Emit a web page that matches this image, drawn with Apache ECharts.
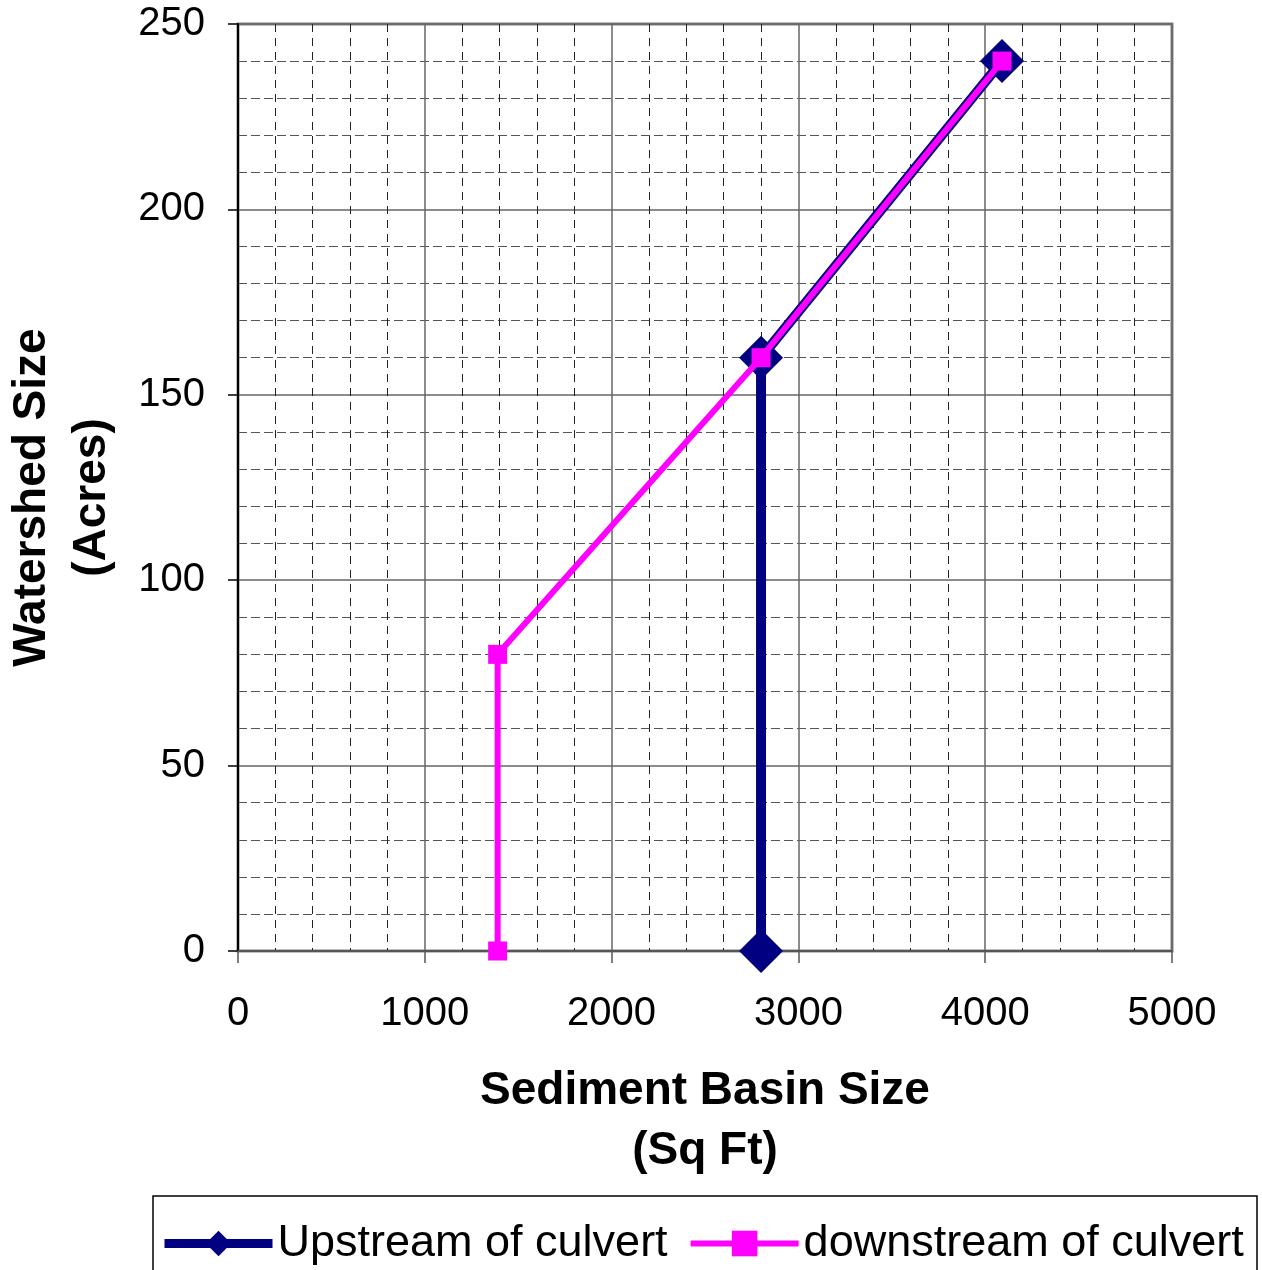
<!DOCTYPE html>
<html>
<head>
<meta charset="utf-8">
<script src="https://cdn.jsdelivr.net/npm/echarts@6/dist/echarts.min.js"></script>
<style>
  html, body { margin: 0; padding: 0; background: #fff; }
  #chart_a { width: 1262px; height: 1270px; }
</style>
</head>
<body>
<div id="chart_a"></div>
<script>
// 数据 (Sq Ft, Acres)
var upstreamX = [2800, 2800, 4090];
var upstreamY = [0, 160, 240];
var downstreamX = [1390, 1390, 2800, 4090];
var downstreamY = [0, 80, 160, 240];
var seriesNames = ['Upstream of culvert', 'downstream of culvert'];

function pairs(xs, ys) {
	var out = [];
	for (var i = 0; i < xs.length; i++) {
		out.push([xs[i], ys[i]]);
	}
	return out;
}

var mychart1 = echarts.init(document.getElementById('chart_a'));
var fontFamily = '"Liberation Sans", Arial, sans-serif';

var option1 = {
	backgroundColor: '#fff',
	animation: false,
	textStyle: { fontFamily: fontFamily },
	grid: {
		left: 238,
		right: 90,
		top: 24,
		bottom: 319,
		outerBoundsMode: 'none',
		containLabel: false,
		show: true,
		borderColor: '#808080',
		borderWidth: 3
	},
	legend: {
		left: 160,
		top: 1221,
		padding: 0,
		itemWidth: 108,
		itemHeight: 32,
		itemGap: 20,
		textStyle: { fontSize: 45, color: '#000', fontFamily: fontFamily },
		data: [
			{ name: seriesNames[0], lineStyle: { width: 9, color: '#000080' } },
			{ name: seriesNames[1], lineStyle: { width: 6, color: '#ff00ff' } }
		]
	},
	graphic: [{
		type: 'rect',
		shape: { x: 153, y: 1196, width: 1104, height: 90 },
		style: { fill: 'none', stroke: '#000', lineWidth: 1.5 },
		silent: true
	}],
	xAxis: {
		type: 'value',
		min: 0,
		max: 5000,
		interval: 1000,
		name: 'Sediment Basin Size\n(Sq Ft)',
		nameLocation: 'middle',
		nameGap: 110,
		nameTextStyle: { fontSize: 46, fontWeight: 'bold', color: '#000', lineHeight: 60, fontFamily: fontFamily },
		axisLine: { show: true, lineStyle: { color: '#555', width: 2 } },
		axisTick: { show: true, length: 12, lineStyle: { color: '#555', width: 1.5 } },
		axisLabel: {
			fontSize: 40, color: '#000', margin: 43, fontFamily: fontFamily,
			formatter: function (v) { return String(v); }
		},
		splitLine: { show: true, lineStyle: { color: '#666', width: 1.5 } },
		minorTick: { show: false, splitNumber: 5 },
		minorSplitLine: { show: true, lineStyle: { color: '#222', width: 1, type: [8, 6] } }
	},
	yAxis: {
		type: 'value',
		min: 0,
		max: 250,
		interval: 50,
		name: 'Watershed Size\n(Acres)',
		nameLocation: 'middle',
		nameGap: 116,
		nameTextStyle: { fontSize: 46, fontWeight: 'bold', color: '#000', lineHeight: 60, fontFamily: fontFamily, padding: [0, 20, 0, 0] },
		axisLine: { show: true, lineStyle: { color: '#000', width: 2 } },
		axisTick: { show: true, length: 10, lineStyle: { color: '#000', width: 1.5 } },
		axisLabel: {
			fontSize: 40, color: '#000', margin: 33, fontFamily: fontFamily,
			formatter: function (v) { return String(v); }
		},
		splitLine: { show: true, lineStyle: { color: '#666', width: 1.5 } },
		minorTick: { show: false, splitNumber: 5 },
		minorSplitLine: { show: true, lineStyle: { color: '#555', width: 1.2, type: [9, 4] } }
	},
	series: [
		{
			name: seriesNames[0],
			type: 'line',
			data: pairs(upstreamX, upstreamY),
			clip: false,
			symbol: 'diamond',
			symbolSize: 44,
			color: '#000080',
			itemStyle: { color: '#000080' },
			lineStyle: { color: '#000080', width: 10 },
			z: 3
		},
		{
			name: seriesNames[1],
			type: 'line',
			data: pairs(downstreamX, downstreamY),
			clip: false,
			symbol: 'rect',
			symbolSize: 19,
			color: '#ff00ff',
			itemStyle: { color: '#ff00ff' },
			lineStyle: { color: '#ff00ff', width: 6 },
			z: 4
		}
	]
};
mychart1.setOption(option1, true);
mychart1.resize();
</script>
</body>
</html>
